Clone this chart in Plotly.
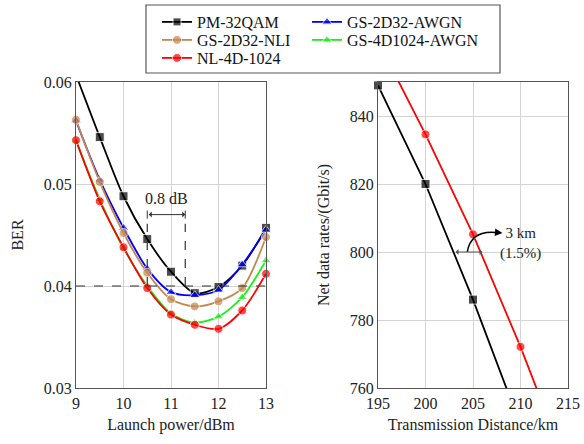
import plotly.graph_objects as go

# ---------------- data ----------------
power = [9, 9.5, 10, 10.5, 11, 11.5, 12, 12.5, 13]
ber_pm32qam = [0.0607, 0.0546, 0.0488, 0.0446, 0.0414, 0.0393, 0.0399, 0.0420, 0.0457]
ber_gs2d32_awgn = [0.0562, 0.0504, 0.0457, 0.0417, 0.0394, 0.0391, 0.0396, 0.0421, 0.0455]
ber_gs2d32_nli = [0.0563, 0.0502, 0.0452, 0.0413, 0.0387, 0.0380, 0.0385, 0.0398, 0.0448]
ber_gs4d1024_awgn = [0.0542, 0.0485, 0.0437, 0.0400, 0.0373, 0.0364, 0.0370, 0.0389, 0.0425]
ber_nl4d1024 = [0.0543, 0.0483, 0.0438, 0.0398, 0.0372, 0.0362, 0.0358, 0.0376, 0.0412]

distance_pm = [195, 200, 205, 210]
rate_pm32qam = [849, 820, 786, 749]
distance_nl = [195, 200, 205, 210, 215]
rate_nl4d1024 = [862, 834.6, 805.2, 772.1, 736]

ber_ticks = [0.03, 0.04, 0.05, 0.06]
power_ticks = [9, 10, 11, 12, 13]
dist_ticks = [195, 200, 205, 210, 215]
rate_ticks = [760, 780, 800, 820, 840]

# ---------------- style ----------------
FONT = "Liberation Serif"
W, H = 584, 444
BER_RANGE = [0.03, 0.06]
RATE_RANGE = [760, 850]

def sizes(vals, rng, s=9):
    return [s if rng[0] - 1e-9 <= v <= rng[1] + 1e-9 else 0 for v in vals]

fig = go.Figure()

# (name, values, colour, symbol, legend id, legend column x px, legend row y px)
left_series = [
    ("PM-32QAM", ber_pm32qam, "#000000", "square", "legend", 157, 22),
    ("GS-2D32-AWGN", ber_gs2d32_awgn, "#0000ff", "triangle-up", "legend2", 307, 22),
    ("GS-2D32-NLI", ber_gs2d32_nli, "#c4874e", "circle", "legend3", 157, 40),
    ("GS-4D1024-AWGN", ber_gs4d1024_awgn, "#18f018", "triangle-up", "legend4", 307, 40),
    ("NL-4D-1024", ber_nl4d1024, "#ff0000", "circle", "legend5", 157, 58),
]
legend_layouts = {}
for name, vals, col, sym, leg, lx, ly in left_series:
    fig.add_trace(go.Scatter(
        x=power, y=vals, name=name, mode="lines+markers",
        line=dict(color=col, width=1.8, shape="spline", smoothing=0.8),
        marker=dict(color=col, symbol=sym, size=sizes(vals, BER_RANGE)),
        cliponaxis=False, legend=leg, xaxis="x", yaxis="y",
    ))
    legend_layouts[leg] = dict(
        x=lx / W, y=1 - ly / H, xanchor="left", yanchor="middle",
        bgcolor="rgba(0,0,0,0)", borderwidth=0,
        font=dict(family=FONT, size=16, color="#111111"), itemwidth=30)

fig.add_trace(go.Scatter(
    x=distance_pm, y=rate_pm32qam, mode="lines+markers", showlegend=False,
    line=dict(color="#000000", width=1.8),
    marker=dict(color="#000000", symbol="square", size=sizes(rate_pm32qam, RATE_RANGE)),
    cliponaxis=False, xaxis="x2", yaxis="y2"))
fig.add_trace(go.Scatter(
    x=distance_nl, y=rate_nl4d1024, mode="lines+markers", showlegend=False,
    line=dict(color="#ff0000", width=1.8),
    marker=dict(color="#ff0000", symbol="circle", size=sizes(rate_nl4d1024, RATE_RANGE)),
    cliponaxis=False, xaxis="x2", yaxis="y2"))

axis_common = dict(
    showgrid=True, gridcolor="#d4d4d4", gridwidth=1,
    showline=True, linecolor="#555555", linewidth=1.2, mirror=True,
    ticks="", zeroline=False, automargin=False,
    tickfont=dict(family=FONT, size=16, color="#222222"),
)

ydom = [56 / H, 362 / H]
fig.update_layout(
    width=W, height=H, margin=dict(l=0, r=0, t=0, b=0, pad=0),
    paper_bgcolor="white", plot_bgcolor="white",
    font=dict(family=FONT, size=16, color="#222222"),
    xaxis=dict(domain=[76 / W, 266 / W], range=[9, 13], tickvals=power_ticks,
               ticklabelstandoff=1,
               title=dict(text="Launch power/dBm", standoff=7, font=dict(family=FONT, size=16)),
               anchor="y", **axis_common),
    yaxis=dict(domain=ydom, range=BER_RANGE, tickvals=ber_ticks, tickformat=".2f",
               ticklabelstandoff=0,
               title=dict(text="BER", standoff=16, font=dict(family=FONT, size=16)),
               anchor="x", **axis_common),
    xaxis2=dict(domain=[378 / W, 568 / W], range=[195, 215], tickvals=dist_ticks,
                ticklabelstandoff=1,
                title=dict(text="Transmission Distance/km", standoff=7, font=dict(family=FONT, size=16)),
                anchor="y2", **axis_common),
    yaxis2=dict(domain=ydom, range=RATE_RANGE, tickvals=rate_ticks,
                ticklabelstandoff=0,
                title=dict(text="Net data rates/(Gbit/s)", standoff=16, font=dict(family=FONT, size=16)),
                anchor="x2", **axis_common),
    **legend_layouts,
)

# legend frame
fig.add_shape(type="rect", xref="paper", yref="paper",
              x0=146 / W, x1=500 / W, y0=1 - 73 / H, y1=1 - 5 / H,
              line=dict(color="#555555", width=1.2), fillcolor="rgba(0,0,0,0)", layer="below")

# ---- left annotations ----
dash = dict(color="#333333", width=1.2, dash="dash")
fig.add_shape(type="line", xref="x", yref="y", x0=9, x1=13, y0=0.04, y1=0.04, line=dash)
fig.add_shape(type="line", xref="x", yref="y", x0=10.5, x1=10.5, y0=0.04, y1=0.0461, line=dash)
fig.add_shape(type="line", xref="x", yref="y", x0=11.3, x1=11.3, y0=0.04, y1=0.0461, line=dash)
for xv in (10.5, 11.3):
    fig.add_shape(type="line", xref="x", yref="y", x0=xv, x1=xv, y0=0.0466, y1=0.0474,
                  line=dict(color="#333333", width=1))
fig.add_annotation(x=11.3, y=0.0470, ax=10.5, ay=0.0470, xref="x", yref="y",
                   axref="x", ayref="y", text="", showarrow=True, arrowhead=1,
                   arrowside="end+start", arrowsize=1, arrowwidth=1, arrowcolor="#333333")
fig.add_annotation(x=10.9, y=0.0486, xref="x", yref="y", text="0.8 dB", showarrow=False,
                   font=dict(family=FONT, size=16, color="#222222"))

# ---- right annotations ----
fig.add_annotation(x=206, y=800, ax=203, ay=800, xref="x2", yref="y2",
                   axref="x2", ayref="y2", text="", showarrow=True, arrowhead=1,
                   arrowside="end+start", arrowsize=1, arrowwidth=1, arrowcolor="#555555")
fig.add_shape(type="path", xref="x2", yref="y2",
              path="M 204.4,800 Q 204.8,806.8 207.8,805.6",
              line=dict(color="#000000", width=1.5))
fig.add_annotation(x=208.1, y=805.6, ax=207.5, ay=805.75, xref="x2", yref="y2",
                   axref="x2", ayref="y2", text="", showarrow=True, arrowhead=2,
                   arrowsize=1, arrowwidth=1.5, arrowcolor="#000000")
fig.add_annotation(x=209.95, y=802.6, xref="x2", yref="y2", text="3 km<br>(1.5%)",
                   showarrow=False, font=dict(family=FONT, size=15, color="#222222"))

fig.write_html("out.html", config={"displayModeBar": False},
               post_script="document.body.style.margin='0';document.body.style.overflow='hidden';")
